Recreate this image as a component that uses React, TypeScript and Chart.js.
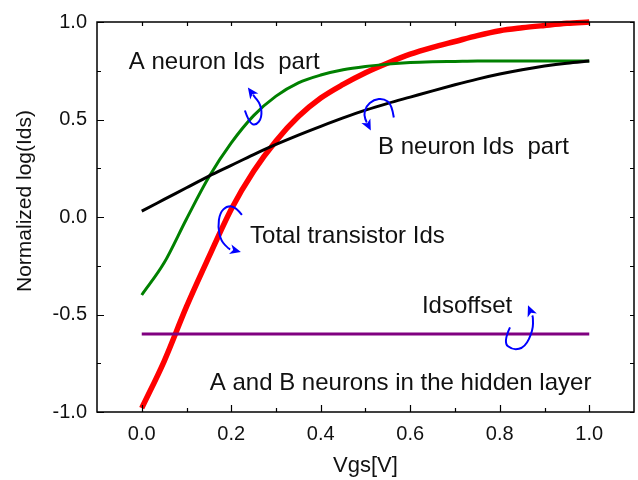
import { useEffect, useRef } from "react";
import { Chart, registerables } from "chart.js";

Chart.register(...registerables);

// Gate voltage sweep (V)
const vgs = [0, 0.05, 0.1, 0.15, 0.2, 0.25, 0.3, 0.35, 0.4, 0.45, 0.5, 0.55, 0.6, 0.65, 0.7, 0.75, 0.8, 0.85, 0.9, 0.95, 1.0];
// Normalized log(Ids) for each curve
const totalIds = [-0.98, -0.74, -0.46, -0.205, 0.04, 0.235, 0.39, 0.515, 0.61, 0.68, 0.74, 0.79, 0.835, 0.87, 0.9, 0.93, 0.955, 0.97, 0.982, 0.993, 1.0];
const neuronAIds = [-0.4, -0.235, -0.01, 0.205, 0.38, 0.52, 0.62, 0.688, 0.728, 0.755, 0.772, 0.784, 0.792, 0.796, 0.798, 0.8, 0.8, 0.8, 0.8, 0.8, 0.8];
const neuronBIds = [0.03, 0.09, 0.15, 0.21, 0.265, 0.32, 0.372, 0.42, 0.465, 0.508, 0.548, 0.583, 0.615, 0.647, 0.678, 0.707, 0.733, 0.755, 0.774, 0.789, 0.8];
const offsetVgs = [0, 1.0];
const offsetIds = [-0.6, -0.6];

// Axis ticks and titles
const xMajor = [0, 0.2, 0.4, 0.6, 0.8, 1.0];
const xMinor = [0.1, 0.3, 0.5, 0.7, 0.9];
const yMajor = [-1.0, -0.5, 0, 0.5, 1.0];
const yMinor = [-0.75, -0.25, 0.25, 0.75];
const xTitle = "Vgs[V]";
const yTitle = "Normalized log(Ids)";

// In-plot notes (text, anchored at data coordinates, left/baseline)
const noteText = ["A neuron Ids  part", "B neuron Ids  part", "Total transistor Ids", "Idsoffset", "A and B neurons in the hidden layer"];
const noteX = [-0.029, 0.528, 0.242, 0.626, 0.152];
const noteY = [0.76, 0.321, -0.133, -0.49, -0.888];

// Curved blue arrows: anchor in data coordinates
const arrowX = [0.2506, 0.532, 0.197, 0.843];
const arrowY = [0.551, 0.541, -0.061, -0.612];

// Arrow stroke shapes in pixel offsets from the anchor; last entry is the tip
const arrowShapes: number[][][] = [
  [[-9, 1], [-5, 13], [2, 16], [8, 8], [7, -5], [-1, -15], [-6, -22]],
  [[14, 6], [12, -7], [4, -13], [-6, -12], [-14, -5], [-16, 4], [-13, 11], [-9, 19]],
  [[12, -14], [6, -22], [-3, -23], [-10, -16], [-12, -2], [-9, 12], [-1, 20], [11, 23]],
  [[-9, -9], [-16, 6], [-6, 14], [6, 11], [14, -6], [14, -19], [9, -31]],
];

const FONT = "'Liberation Sans', Arial, sans-serif";

const toPoints = (xs: number[], ys: number[]) => xs.map((x, i) => ({ x, y: ys[i] }));

const framePlugin = {
  id: "frameAndNotes",
  afterDatasetsDraw(chart: any) {
    const { ctx, chartArea: a, scales } = chart;
    const xs = scales.x;
    const ys = scales.y;
    ctx.save();
    // frame
    ctx.strokeStyle = "#000";
    ctx.lineWidth = 1.5;
    ctx.strokeRect(a.left, a.top, a.right - a.left, a.bottom - a.top);
    ctx.lineWidth = 1.2;
    ctx.beginPath();
    const tickX = (vals: number[], lenB: number, lenT: number) => {
      vals.forEach((v) => {
        const px = Math.round(xs.getPixelForValue(v)) + 0.5;
        ctx.moveTo(px, a.bottom);
        ctx.lineTo(px, a.bottom - lenB);
        ctx.moveTo(px, a.top);
        ctx.lineTo(px, a.top + lenT);
      });
    };
    const tickY = (vals: number[], lenL: number, lenR: number) => {
      vals.forEach((v) => {
        const py = Math.round(ys.getPixelForValue(v)) + 0.5;
        ctx.moveTo(a.left, py);
        ctx.lineTo(a.left + lenL, py);
        ctx.moveTo(a.right, py);
        ctx.lineTo(a.right - lenR, py);
      });
    };
    tickX(xMajor, 7, 4);
    tickX(xMinor, 4, 4);
    tickY(yMajor, 7, 4);
    tickY(yMinor, 4, 4);
    ctx.stroke();

    // y-axis title, rotated
    ctx.fillStyle = "#111";
    ctx.save();
    ctx.translate(25, (a.top + a.bottom) / 2 - 16);
    ctx.rotate(-Math.PI / 2);
    ctx.font = `21px ${FONT}`;
    ctx.textAlign = "center";
    ctx.textBaseline = "middle";
    ctx.fillText(yTitle, 0, 0);
    ctx.restore();

    // notes
    ctx.font = `24px ${FONT}`;
    ctx.textAlign = "left";
    ctx.textBaseline = "alphabetic";
    noteText.forEach((t, i) => {
      ctx.fillText(t, xs.getPixelForValue(noteX[i]), ys.getPixelForValue(noteY[i]));
    });

    // curved arrows
    ctx.strokeStyle = "#0000ff";
    ctx.fillStyle = "#0000ff";
    ctx.lineWidth = 2;
    arrowShapes.forEach((shape, i) => {
      const ox = xs.getPixelForValue(arrowX[i]);
      const oy = ys.getPixelForValue(arrowY[i]);
      const pts = shape.map(([dx, dy]) => [ox + dx, oy + dy]);
      const tip = pts[pts.length - 1];
      const prev = pts[pts.length - 2];
      const ang = Math.atan2(tip[1] - prev[1], tip[0] - prev[0]);
      const headLen = 11;
      const halfW = 5;
      const base = [tip[0] - headLen * Math.cos(ang), tip[1] - headLen * Math.sin(ang)];
      const path = pts.slice(0, -1).concat([base]);
      ctx.beginPath();
      ctx.moveTo(path[0][0], path[0][1]);
      for (let k = 1; k < path.length - 1; k++) {
        const mx = (path[k][0] + path[k + 1][0]) / 2;
        const my = (path[k][1] + path[k + 1][1]) / 2;
        ctx.quadraticCurveTo(path[k][0], path[k][1], mx, my);
      }
      ctx.lineTo(base[0], base[1]);
      ctx.stroke();
      ctx.beginPath();
      ctx.moveTo(tip[0], tip[1]);
      ctx.lineTo(base[0] - halfW * Math.sin(ang), base[1] + halfW * Math.cos(ang));
      ctx.lineTo(base[0] + 3 * Math.cos(ang), base[1] + 3 * Math.sin(ang));
      ctx.lineTo(base[0] + halfW * Math.sin(ang), base[1] - halfW * Math.cos(ang));
      ctx.closePath();
      ctx.fill();
    });
    ctx.restore();
  },
};

export default function App() {
  const canvasRef = useRef<HTMLCanvasElement>(null);

  useEffect(() => {
    if (!canvasRef.current) return;
    const line = (data: any, color: string, width: number) => ({
      data,
      borderColor: color,
      backgroundColor: color,
      borderWidth: width,
      pointRadius: 0,
      tension: 0.4,
      cubicInterpolationMode: "monotone" as const,
      fill: false,
      clip: false as const,
    });
    const chart = new Chart(canvasRef.current, {
      type: "line",
      data: {
        datasets: [
          line(toPoints(offsetVgs, offsetIds), "#800080", 3),
          line(toPoints(vgs, neuronBIds), "#000000", 3),
          line(toPoints(vgs, neuronAIds), "#008000", 3),
          line(toPoints(vgs, totalIds), "#ff0000", 5.5),
        ],
      },
      options: {
        responsive: false,
        animation: false,
        devicePixelRatio: 1,
        layout: { padding: { top: 20, right: 4, left: 0, bottom: 0 } },
        plugins: { legend: { display: false }, tooltip: { enabled: false } },
        scales: {
          x: {
            type: "linear",
            min: -0.1,
            max: 1.1,
            grid: { display: false, drawTicks: false },
            border: { display: false },
            afterBuildTicks: (s: any) => {
              s.ticks = xMajor.map((v) => ({ value: v }));
            },
            afterFit: (s: any) => {
              s.height = 68;
            },
            ticks: {
              padding: 10,
              color: "#111",
              font: { family: FONT, size: 20 },
              callback: (v: any) => Number(v).toFixed(1),
            },
            title: {
              display: true,
              text: xTitle,
              color: "#111",
              font: { family: FONT, size: 22 },
              padding: { top: 0, bottom: 1 },
            },
          },
          y: {
            type: "linear",
            min: -1,
            max: 1,
            grid: { display: false, drawTicks: false },
            border: { display: false },
            afterBuildTicks: (s: any) => {
              s.ticks = yMajor.map((v) => ({ value: v }));
            },
            afterFit: (s: any) => {
              s.width = 97;
            },
            ticks: {
              padding: 10,
              color: "#111",
              font: { family: FONT, size: 20 },
              callback: (v: any) => Number(v).toFixed(1),
            },
          },
        },
      },
      plugins: [framePlugin],
    });
    return () => chart.destroy();
  }, []);

  return (
    <div style={{ position: "absolute", left: 0, top: 0, width: 638, height: 480, background: "#fff" }}>
      <canvas ref={canvasRef} width={638} height={480} />
    </div>
  );
}
